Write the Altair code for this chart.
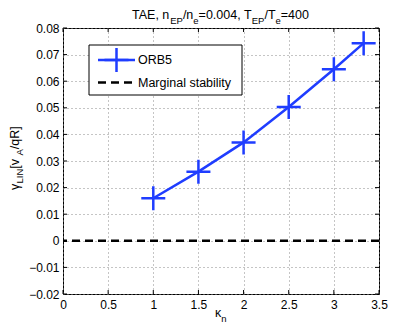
import altair as alt
import pandas as pd

# ---- data ----
kappa = [1.0, 1.5, 2.0, 2.5, 3.0, 3.33]
gamma = [0.016, 0.026, 0.037, 0.0503, 0.0645, 0.0743]
zero_level = [0.0]
x_ticks = [0, 0.5, 1, 1.5, 2, 2.5, 3, 3.5]
y_ticks = [-0.02, -0.01, 0, 0.01, 0.02, 0.03, 0.04, 0.05, 0.06, 0.07, 0.08]
series_names = ["ORB5", "Marginal stability"]

W, H = 316, 266
FONT = "Liberation Sans"
BLUE = "#1f3dff"
PLUS = "M-1,0H1M0,-1V1"

# Arial/Liberation Sans advance widths (per 1000 em)
AW = {"T": 611, "A": 667, "E": 667, ",": 278, " ": 278, "n": 556, "P": 667,
      "/": 278, "e": 556, "=": 584, "0": 556, ".": 278, "4": 556,
      "γ": 520, "L": 556, "I": 278, "N": 722, "[": 278, "v": 500, "q": 556,
      "R": 722, "]": 278, "κ": 500}


def tw(s, size):
    return sum(AW.get(c, 556) for c in s) * size / 1000.0


dummy = pd.DataFrame({"d": [0]})

x_scale = alt.Scale(domain=[0, 3.5], nice=False, zero=False)
y_scale = alt.Scale(domain=[-0.02, 0.08], nice=False, zero=False)
x_axis = alt.Axis(values=x_ticks, title=None, grid=True, gridDash=[1, 3],
                  gridColor="#8a8a8a", gridWidth=1, ticks=False, domain=False,
                  labelFont=FONT, labelFontSize=12, labelColor="black",
                  labelPadding=5, format="~g", labelFlush=False)
y_axis = alt.Axis(values=y_ticks, title=None, grid=True, gridDash=[1, 3],
                  gridColor="#8a8a8a", gridWidth=1, ticks=False, domain=False,
                  labelFont=FONT, labelFontSize=12, labelColor="black",
                  labelPadding=4, labelFlush=False,
                  labelExpr="abs(datum.value) < 1e-9 ? '0' : format(datum.value, '.2f')")

df = pd.DataFrame({"kappa": kappa, "gamma": gamma})
X = alt.X("kappa:Q", scale=x_scale, axis=x_axis)
Y = alt.Y("gamma:Q", scale=y_scale, axis=y_axis)

line = alt.Chart(df).mark_line(color=BLUE, strokeWidth=2.5).encode(x=X, y=Y)
pts = alt.Chart(df).mark_point(shape=PLUS, filled=False, color=BLUE,
                               strokeWidth=2.5, size=576, opacity=1).encode(x=X, y=Y)

zdf = pd.DataFrame({"z": zero_level})
zero = alt.Chart(zdf).mark_rule(color="black", strokeWidth=2.5,
                                strokeDash=[8, 5]).encode(
    y=alt.Y("z:Q", scale=y_scale, axis=y_axis))

# inward ticks on all four sides
xt = pd.DataFrame({"v": x_ticks})
yt = pd.DataFrame({"v": y_ticks})
XT = alt.X("v:Q", scale=x_scale, axis=x_axis)
YT = alt.Y("v:Q", scale=y_scale, axis=y_axis)
ticks = [
    alt.Chart(xt).mark_rule(color="black", strokeWidth=1).encode(
        x=XT, y=alt.value(H), y2=alt.value(H - 4)),
    alt.Chart(xt).mark_rule(color="black", strokeWidth=1).encode(
        x=XT, y=alt.value(0), y2=alt.value(4)),
    alt.Chart(yt).mark_rule(color="black", strokeWidth=1).encode(
        y=YT, x=alt.value(0), x2=alt.value(4)),
    alt.Chart(yt).mark_rule(color="black", strokeWidth=1).encode(
        y=YT, x=alt.value(W), x2=alt.value(W - 4)),
]

# legend
lx0, lx1, ly0, ly1 = 26, 179, 17, 67
r1, r2 = 32, 54.5
s0, s1, tx = 35, 72, 75
legend = [
    alt.Chart(dummy).mark_rect(fill="white", stroke="black", strokeWidth=1).encode(
        x=alt.value(lx0), x2=alt.value(lx1), y=alt.value(ly0), y2=alt.value(ly1)),
    alt.Chart(dummy).mark_rule(color=BLUE, strokeWidth=2.5).encode(
        x=alt.value(s0), x2=alt.value(s1), y=alt.value(r1)),
    alt.Chart(dummy).mark_point(shape=PLUS, filled=False, color=BLUE, strokeWidth=2.5,
                                size=576, opacity=1).encode(
        x=alt.value((s0 + s1) / 2), y=alt.value(r1)),
    alt.Chart(dummy).mark_rule(color="black", strokeWidth=2.5, strokeDash=[8, 5]).encode(
        x=alt.value(s0), x2=alt.value(s1), y=alt.value(r2)),
    alt.Chart(pd.DataFrame({"t": [series_names[0]]})).mark_text(
        font=FONT, fontSize=12.5, color="black", align="left", baseline="middle").encode(
        text="t:N", x=alt.value(tx), y=alt.value(r1)),
    alt.Chart(pd.DataFrame({"t": [series_names[1]]})).mark_text(
        font=FONT, fontSize=12.5, color="black", align="left", baseline="middle").encode(
        text="t:N", x=alt.value(tx), y=alt.value(r2)),
]


def text_layer(s, x, y, size, angle=0):
    return alt.Chart(pd.DataFrame({"t": [s]})).mark_text(
        font=FONT, fontSize=size, color="black", align="left",
        baseline="alphabetic", angle=angle).encode(
        text="t:N", x=alt.value(x), y=alt.value(y))


MAIN, SUB = 12.5, 9.5

# title with subscripts
title_parts = [("TAE, n", 0), ("EP", 1), ("/n", 0), ("e", 1), ("=0.004, T", 0),
               ("EP", 1), ("/T", 0), ("e", 1), ("=400", 0)]
texts = []
cx = 69
for s, sub in title_parts:
    size = SUB if sub else MAIN
    texts.append(text_layer(s, cx, -4 if sub else -9, size))
    cx += tw(s, size)

# y-axis label (rotated)
ylab_parts = [("γ", 0), ("LIN", 1), (" [v", 0), ("A", 1), ("/qR]", 0)]
cy = 162
for s, sub in ylab_parts:
    size = SUB if sub else MAIN
    texts.append(text_layer(s, -40 if sub else -44, cy, size, angle=270))
    cy -= tw(s, size)

# x-axis label
texts.append(text_layer("κ", 152, 289, MAIN))
texts.append(text_layer("n", 152 + tw("κ", MAIN), 294, SUB))

chart = alt.layer(line, pts, zero, *ticks, *legend, *texts).properties(
    width=W, height=H,
    autosize=alt.AutoSizeParams(type="none"),
    padding={"left": 55, "top": 20, "right": 32, "bottom": 29},
    background="white",
).configure_view(stroke="black", strokeWidth=1)

chart.save("out.html", embed_options={"renderer": "svg", "actions": False})
